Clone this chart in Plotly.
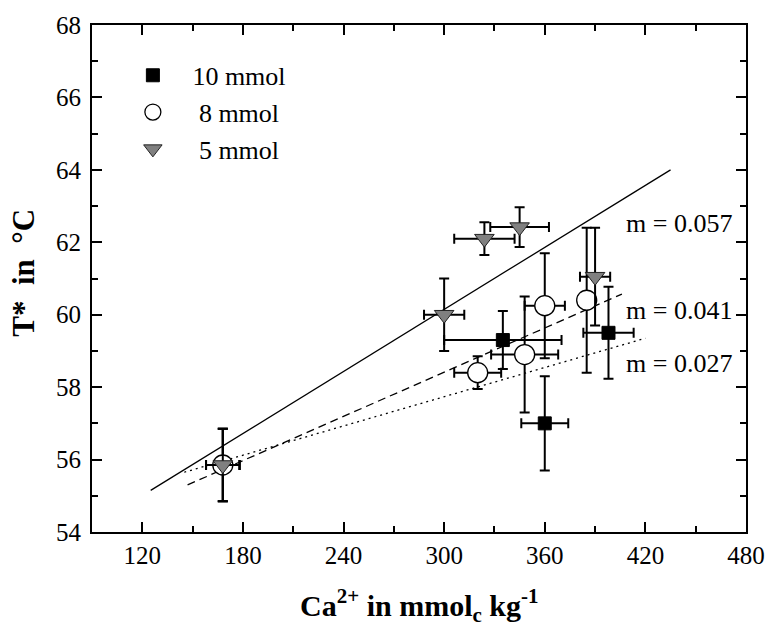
import plotly.graph_objects as go

# Ca2+ content (mmolc/kg) and T* (°C) per treatment, with +/- errors
ca_10 = [168, 335, 360, 398]
t_10 = [55.85, 59.3, 57.0, 59.5]
ca_err_10 = [10, 35, 14, 15]
t_err_10 = [1.0, 0.8, 1.3, 1.27]

ca_8 = [168, 320, 348, 360, 385]
t_8 = [55.85, 58.4, 58.9, 60.25, 60.4]
ca_err_8 = [10, 14, 20, 12, 5]
t_err_8 = [1.0, 0.45, 1.6, 1.45, 2.0]

ca_5 = [168, 300, 324, 345, 390]
t_5 = [55.85, 60.0, 62.1, 62.42, 61.05]
ca_err_5 = [10, 12, 18, 17.5, 9]
t_err_5 = [1.0, 1.0, 0.45, 0.55, 1.35]

# regression lines (end points) and their slope labels
fit_x_5 = [125, 435]
fit_y_5 = [55.15, 64.0]
fit_x_8 = [147, 406]
fit_y_8 = [55.3, 60.57]
fit_x_10 = [145, 420]
fit_y_10 = [55.65, 59.35]
slope_text = ["m = 0.057", "m = 0.041", "m = 0.027"]
slope_text_x = [407, 407, 407]
slope_text_y = [62.52, 60.12, 58.64]

x_ticks = [120, 180, 240, 300, 360, 420, 480]
y_ticks = [54, 56, 58, 60, 62, 64, 66, 68]

SERIF = "Liberation Serif, Times New Roman, serif"

fig = go.Figure()

for fx, fy, dash in [(fit_x_5, fit_y_5, "solid"),
                     (fit_x_8, fit_y_8, "8px,5px"),
                     (fit_x_10, fit_y_10, "2px,4px")]:
    fig.add_trace(go.Scatter(x=fx, y=fy, mode="lines", showlegend=False,
                             line=dict(color="black", width=1.3, dash=dash),
                             hoverinfo="skip"))


def err(vals):
    return dict(type="data", array=vals, color="black", thickness=2, width=5)


fig.add_trace(go.Scatter(
    x=ca_10, y=t_10, mode="markers", name="&nbsp;&nbsp;&nbsp;10 mmol",
    error_x=err(ca_err_10), error_y=err(t_err_10),
    marker=dict(symbol="square", size=13, color="black",
                line=dict(color="black", width=1))))
fig.add_trace(go.Scatter(
    x=ca_8, y=t_8, mode="markers", name="&nbsp;&nbsp;&nbsp;&nbsp;8 mmol",
    error_x=err(ca_err_8), error_y=err(t_err_8),
    marker=dict(symbol="circle", size=20, color="white",
                line=dict(color="black", width=1.3))))
fig.add_trace(go.Scatter(
    x=ca_5, y=t_5, mode="markers", name="&nbsp;&nbsp;&nbsp;&nbsp;5 mmol",
    error_x=err(ca_err_5), error_y=err(t_err_5),
    marker=dict(symbol="triangle-down", size=17, color="#808080",
                line=dict(color="#222222", width=1))))

for txt, tx, ty in zip(slope_text, slope_text_x, slope_text_y):
    fig.add_annotation(x=tx, y=ty, text=txt, showarrow=False,
                       xanchor="left", yanchor="middle",
                       font=dict(family=SERIF, size=26, color="black"))

fig.add_annotation(xref="paper", yref="paper", x=0.5, y=-0.145,
                   text="<b>Ca<sup>2+</sup> in mmol<sub>c</sub> kg<sup>-1</sup></b>",
                   showarrow=False, xanchor="center", yanchor="middle",
                   font=dict(family=SERIF, size=30, color="black"))
fig.add_annotation(xref="paper", yref="paper", x=-0.105, y=0.512,
                   text="<b>T* &nbsp;in &nbsp;°C</b>", textangle=-90,
                   showarrow=False, xanchor="center", yanchor="middle",
                   font=dict(family=SERIF, size=31, color="black"))

axis_common = dict(showline=True, linecolor="black", linewidth=2,
                   mirror="ticks", ticks="inside", ticklen=10, tickwidth=2,
                   tickcolor="black", showgrid=False, zeroline=False,
                   tickfont=dict(family=SERIF, size=25, color="black"))

fig.update_xaxes(range=[90, 480], tickvals=x_ticks,
                 minor=dict(ticks="inside", ticklen=6, tickwidth=2,
                            tickcolor="black", dtick=30, tick0=90),
                 ticklabelstandoff=0, **axis_common)
fig.update_yaxes(range=[54, 68], tickvals=y_ticks,
                 minor=dict(ticks="inside", ticklen=6, tickwidth=2,
                            tickcolor="black", dtick=1, tick0=54),
                 ticklabelstandoff=4, **axis_common)

fig.update_layout(
    width=777, height=628,
    margin=dict(l=92, r=22, t=23, b=96),
    plot_bgcolor="white", paper_bgcolor="white",
    font=dict(family=SERIF, color="black"),
    legend=dict(x=0.0625, y=0.947, xanchor="left", yanchor="top",
                bgcolor="rgba(0,0,0,0)", borderwidth=0,
                font=dict(family=SERIF, size=26, color="black"),
                tracegroupgap=0),
)

fig.write_html("out.html")
